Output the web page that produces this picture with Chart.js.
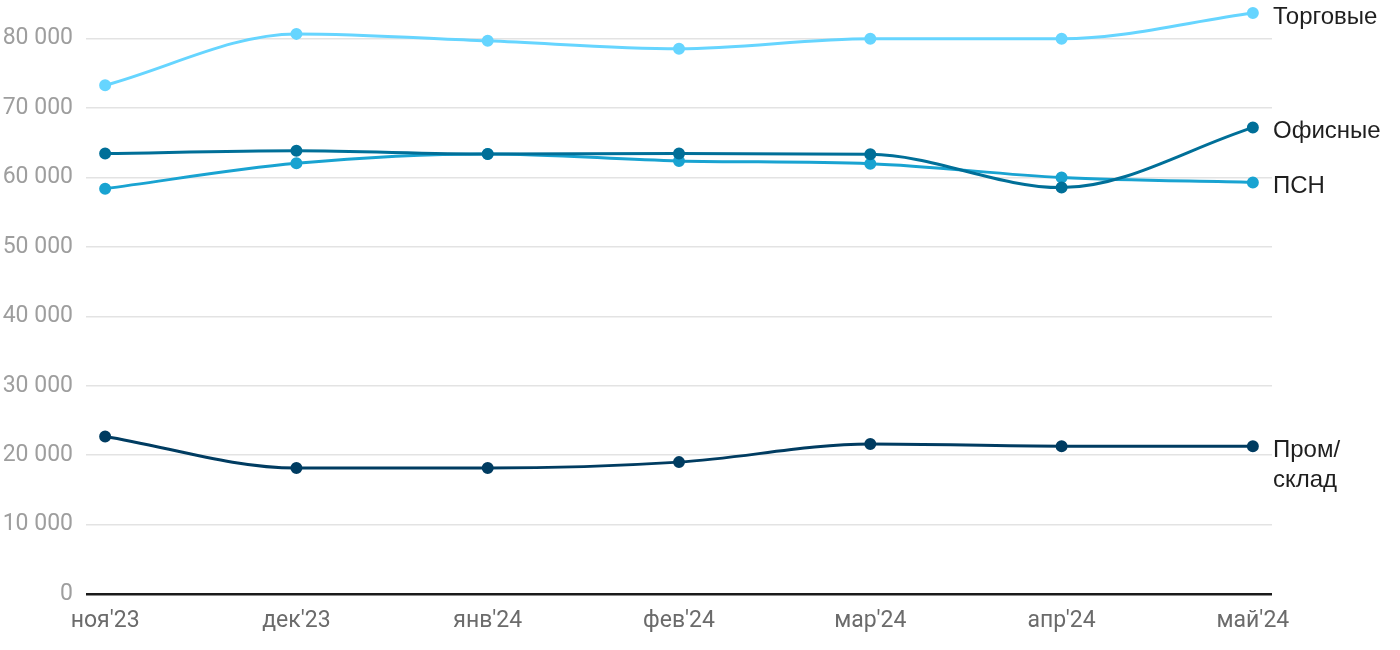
<!DOCTYPE html>
<html><head><meta charset="utf-8">
<script src="https://cdn.jsdelivr.net/npm/chart.js@4"></script>
<style>html,body{margin:0;padding:0;background:#fff}#wrap{width:1400px;height:650px}</style>
</head><body><div id="wrap"><canvas id="c" width="1400" height="650"></canvas></div>
<script>
const categories = ["ноя'23","дек'23","янв'24","фев'24","мар'24","апр'24","май'24"];
const torgovye = [73300, 80700, 79700, 78550, 80000, 80000, 83700];
const ofisnye  = [63450, 63850, 63400, 63450, 63350, 58550, 67200];
const psn      = [58400, 62050, 63400, 62400, 62000, 60000, 59300];
const prom     = [22700, 18150, 18150, 19000, 21600, 21300, 21300];
const seriesNames = [["Торговые"],["Офисные"],["ПСН"],["Пром/","склад"]];
const colors = ["#66d5ff","#006f98","#19a3d1","#003c61"];
const yTicks = [0,10000,20000,30000,40000,50000,60000,70000,80000];

const toXY = arr => arr.map((v,i)=>({x:i,y:v}));
const mk = (arr,i)=>({data:toXY(arr),borderColor:colors[i],backgroundColor:colors[i],borderWidth:3,
  pointRadius:4.5,pointHoverRadius:4.5,cubicInterpolationMode:'monotone',fill:false,label:seriesNames[i].join(' ')});

const endLabels = {
  id:'endLabels',
  afterDatasetsDraw(chart){
    const ctx = chart.ctx;
    ctx.save();
    ctx.font = '24px "Liberation Sans", Arial, sans-serif';
    ctx.fillStyle = '#1f1f1f';
    ctx.textBaseline = 'middle';
    ctx.textAlign = 'left';
    chart.data.datasets.forEach((ds,i)=>{
      const meta = chart.getDatasetMeta(i);
      const p = meta.data[meta.data.length-1];
      seriesNames[i].forEach((t,j)=>ctx.fillText(t, chart.chartArea.right+1, p.y+4+j*30));
    });
    ctx.restore();
  }
};

new Chart(document.getElementById('c'),{
  type:'line',
  data:{datasets:[mk(torgovye,0),mk(ofisnye,1),mk(psn,2),mk(prom,3)]},
  options:{
    responsive:false,animation:false,clip:false,
    layout:{padding:{left:0,right:128,top:0,bottom:0}},
    plugins:{legend:{display:false},tooltip:{enabled:false}},
    scales:{
      x:{type:'linear',min:-0.1,max:6.1,
        afterBuildTicks:s=>{s.ticks=categories.map((_,i)=>({value:i}));},
        afterFit:s=>{s.height=56;},
        grid:{display:false,drawTicks:false},border:{display:false},
        ticks:{autoSkip:false,maxRotation:0,padding:13,color:'#6b6b6b',
          font:{family:'Roboto',size:23},callback:v=>categories[v]}},
      y:{min:0,max:84500,
        afterBuildTicks:s=>{s.ticks=yTicks.map(v=>({value:v}));},
        afterFit:s=>{s.width=86;s.paddingTop=0;},
        border:{display:false},
        grid:{drawTicks:false,color:c=>c.tick.value===0?'#1a1a1a':'#e3e3e3',lineWidth:c=>c.tick.value===0?2.5:1.5},
        ticks:{padding:13,color:'#9e9e9e',font:{family:'Roboto',size:23},
          callback:v=>v===0?'0':String(v).replace(/\B(?=(\d{3})+(?!\d))/g,' ')}}
    }
  },
  plugins:[endLabels]
});
</script></body></html>
